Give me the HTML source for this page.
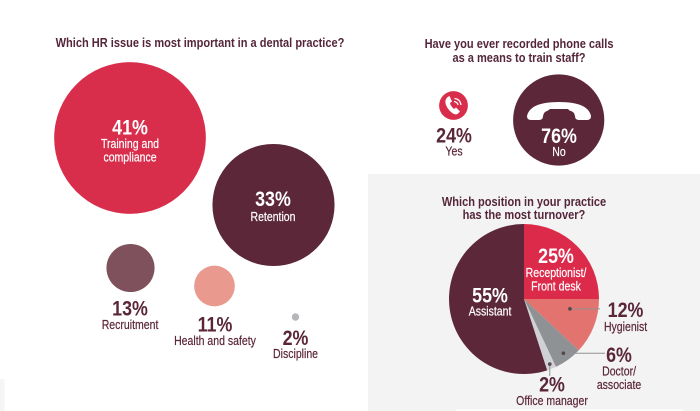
<!DOCTYPE html>
<html lang="en">
<head>
<meta charset="utf-8">
<title>Dental practice HR survey</title>
<style>
html,body{margin:0;padding:0;background:#fff;}
svg{display:block;}
text{font-family:"Liberation Sans",sans-serif;text-anchor:middle;transform-box:fill-box;transform-origin:center;}
.title{font-size:13px;font-weight:700;fill:#55263a;transform:scaleX(.85);}
.pct{font-size:21px;font-weight:700;transform:scaleX(.85);}
.lbl{font-size:13px;font-weight:400;stroke-width:.2px;transform:scaleX(.81);}
.dark{fill:#5a2639;stroke:#5a2639;}
.pct.dark,.pct.light{stroke:none;}
.light{fill:#fff;stroke:#fff;}
</style>
</head>
<body>
<svg id="chart" xmlns="http://www.w3.org/2000/svg" width="700" height="411" viewBox="0 0 700 411">
  <rect x="0" y="0" width="700" height="411" fill="#ffffff"/>
  <rect x="368" y="174" width="332" height="237" fill="#f3f3f3"/>
  <rect x="456" y="409.5" width="227" height="1.5" fill="#ffffff"/>
  <rect x="0" y="379" width="4.5" height="32" fill="#f5f5f5"/>
  <text class="title" x="200" y="47">Which HR issue is most important in a dental practice?</text>
  <text class="title" x="519" y="48">Have you ever recorded phone calls</text>
  <text class="title" x="519" y="62">as a means to train staff?</text>
  <text class="title" x="524" y="206">Which position in your practice</text>
  <text class="title" x="524" y="219">has the most turnover?</text>
  <g id="bubbles"></g>
  <g id="phones"></g>
  <g id="pie"></g>
  <g id="labels"></g>
</svg>
<script>
// Bubble chart data
var bubbleCategories = ["Training and compliance", "Retention", "Recruitment", "Health and safety", "Discipline"];
var bubbleValues = [41, 33, 13, 11, 2];
// Phone chart data
var phoneCategories = ["Yes", "No"];
var phoneValues = [24, 76];
// Pie chart data
var pieCategories = ["Receptionist/Front desk", "Hygienist", "Doctor/associate", "Office manager", "Assistant"];
var pieValues = [25, 12, 6, 2, 55];

var NS = "http://www.w3.org/2000/svg";
var BUBBLE_SCALE = 1.85, PHONE_SCALE = 0.6;
var PIE_CX = 524, PIE_CY = 299, PIE_R = 75;
function rBubble(v){ return v * BUBBLE_SCALE; }
function rPhone(v){ return v * PHONE_SCALE; }
function angle(pct){ return pct / 100 * 2 * Math.PI; }
function px(a, r){ return PIE_CX + r * Math.sin(a); }
function py(a, r){ return PIE_CY - r * Math.cos(a); }
function slug(s){ return s.toLowerCase().replace(/[^a-z0-9]+/g, "-").replace(/-$/, ""); }

// Layout of the bubbles, keyed by index
var bubbleCentres = [[130, 138], [273.5, 205], [130.5, 268], [214.5, 286], [295.5, 317]];
var bubbleColours = ["#d82e4c", "#5c2739", "#7f515d", "#e9998e", "#b4b6b9"];
var bubbleGroup = document.getElementById("bubbles");
bubbleValues.forEach(function(v, i){
  var c = document.createElementNS(NS, "circle");
  c.setAttribute("cx", bubbleCentres[i][0]);
  c.setAttribute("cy", bubbleCentres[i][1]);
  c.setAttribute("r", rBubble(v));
  c.setAttribute("fill", bubbleColours[i]);
  
  
  bubbleGroup.appendChild(c);
});

// Phone bubbles
var phoneCentres = [[453.5, 105.5], [558.7, 120]];
var phoneColours = ["#d82e4c", "#5c2739"];
var phoneGroup = document.getElementById("phones");
phoneValues.forEach(function(v, i){
  var c = document.createElementNS(NS, "circle");
  c.setAttribute("cx", phoneCentres[i][0]);
  c.setAttribute("cy", phoneCentres[i][1]);
  c.setAttribute("r", rPhone(v));
  c.setAttribute("fill", phoneColours[i]);
  
  
  phoneGroup.appendChild(c);
});
var handset = document.createElementNS(NS, "path");
handset.setAttribute("d", "M527 116Q530 102 559 102Q588 102 591 116Q591 120 587 120L579 120Q575 120 575 116L574 113Q572 111 569.5 110.5L568 109L550 109L548 110.5Q546 111 544 113L543 116Q543 120 539 120L531 120Q527 120 527 116Z");
handset.setAttribute("fill", "#ffffff");


phoneGroup.appendChild(handset);
var callIcon = document.createElementNS(NS, "path");
callIcon.setAttribute("d", "M447 97.5L449.5 96L452 101.5L450 103Q450.5 106 454 109L456 107.5L460 111.5L457.5 114Q454 115.5 449.5 110.5Q444.5 105 445.5 100Z");
callIcon.setAttribute("fill", "#ffffff");


phoneGroup.appendChild(callIcon);
var waves = document.createElementNS(NS, "path");
waves.setAttribute("d", "M454 101.5Q457.5 102 458 105M454.5 98.5Q460 99 461 105");
waves.setAttribute("fill", "none");
waves.setAttribute("stroke", "#ffffff");
waves.setAttribute("stroke-width", "1.2");


phoneGroup.appendChild(waves);

// Pie
var pieColours = ["#dc2a4b", "#e3736f", "#8f9295", "#d0d1d4", "#5c2739"];
var leaderFraction = [null, 0.28, 0.5, 0.5, null];
var leaderRadius = [null, 47, 67, 70, null];
var leaderEnds = [null, [600, null], [605, null], [null, 376], null];
var pieGroup = document.getElementById("pie");
var cumulative = 0;
var pieTotal = pieValues.reduce(function(a, b){ return a + b; }, 0);
pieValues.forEach(function(v, i){
  var share = v / pieTotal * 100;
  var a0 = angle(cumulative), a1 = angle(cumulative + share);
  var large = share > 50 ? 1 : 0;
  var p = document.createElementNS(NS, "path");
  p.setAttribute("d", "M" + PIE_CX + " " + PIE_CY + "L" + px(a0, PIE_R) + " " + py(a0, PIE_R) +
    "A" + PIE_R + " " + PIE_R + " 0 " + large + " 1 " + px(a1, PIE_R) + " " + py(a1, PIE_R) + "Z");
  p.setAttribute("fill", pieColours[i]);
  
  
  pieGroup.appendChild(p);
  cumulative += share;
});
cumulative = 0;
pieValues.forEach(function(v, i){
  var share = v / pieTotal * 100;
  if (leaderFraction[i] !== null) {
    var a = angle(cumulative + share * leaderFraction[i]);
    var dx = px(a, leaderRadius[i]), dy = py(a, leaderRadius[i]);
    var end = leaderEnds[i];
    var line = document.createElementNS(NS, "line");
    line.setAttribute("x1", dx);
    line.setAttribute("y1", dy);
    line.setAttribute("x2", end[0] === null ? dx : end[0]);
    line.setAttribute("y2", end[1] === null ? dy : end[1]);
    line.setAttribute("stroke", "#8f9295");
    line.setAttribute("stroke-width", "1");
    
    
    pieGroup.appendChild(line);
    var dot = document.createElementNS(NS, "circle");
    dot.setAttribute("cx", dx);
    dot.setAttribute("cy", dy);
    dot.setAttribute("r", 1.8);
    dot.setAttribute("fill", "#55474c");
    
    
    pieGroup.appendChild(dot);
  }
  cumulative += share;
});

// Printed values and captions
var labelGroup = document.getElementById("labels");
function addText(str, x, y, cls, name){
  var t = document.createElementNS(NS, "text");
  t.setAttribute("x", x);
  t.setAttribute("y", y);
  t.setAttribute("class", cls);
  
  
  t.textContent = str;
  labelGroup.appendChild(t);
}
var bubblePctPos = [[130, 134.5, "light"], [273, 206, "light"], [130, 315.5, "dark"], [215, 331.5, "dark"], [295.5, 345, "dark"]];
var bubbleCaptions = [[["Training and", 148], ["compliance", 161.5]], [["Retention", 221]], [["Recruitment", 329]], [["Health and safety", 345]], [["Discipline", 358]]];
bubbleValues.forEach(function(v, i){
  var pos = bubblePctPos[i];
  addText(v + "%", pos[0], pos[1], "pct " + pos[2], "value-" + slug(bubbleCategories[i]));
  bubbleCaptions[i].forEach(function(c, j){
    addText(c[0], pos[0], c[1], "lbl " + pos[2], "label-" + slug(bubbleCategories[i]) + "-" + j);
  });
});
var phonePctPos = [[454, 142.5, "dark"], [559, 143, "light"]];
var phoneCaptionY = [155.5, 156];
phoneValues.forEach(function(v, i){
  var pos = phonePctPos[i];
  addText(v + "%", pos[0], pos[1], "pct " + pos[2], "value-phone-" + slug(phoneCategories[i]));
  addText(phoneCategories[i], pos[0], phoneCaptionY[i], "lbl " + pos[2], "label-phone-" + slug(phoneCategories[i]));
});
var piePctPos = [[556, 263, "light"], [625.5, 317, "dark"], [619, 362, "dark"], [552, 391.5, "dark"], [490, 302.5, "light"]];
var pieCaptions = [[["Receptionist/", 277], ["Front desk", 290.5]], [["Hygienist", 331]], [["Doctor/", 375.5], ["associate", 389]], [["Office manager", 405]], [["Assistant", 315.5]]];
pieValues.forEach(function(v, i){
  var pos = piePctPos[i];
  addText(v + "%", pos[0], pos[1], "pct " + pos[2], "value-" + slug(pieCategories[i]));
  pieCaptions[i].forEach(function(c, j){
    addText(c[0], pos[0], c[1], "lbl " + pos[2], "label-" + slug(pieCategories[i]) + "-" + j);
  });
});
</script>
</body>
</html>
